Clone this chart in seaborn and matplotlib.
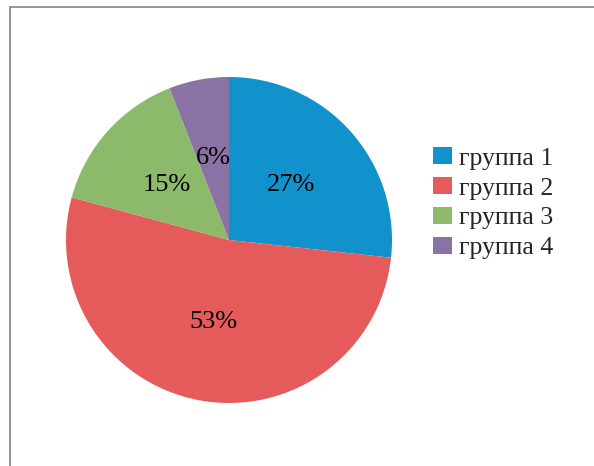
import matplotlib
matplotlib.use("Agg")
import matplotlib.pyplot as plt
import seaborn as sns
from matplotlib.lines import Line2D
from matplotlib.patches import Patch

groups = ["группа 1", "группа 2", "группа 3", "группа 4"]
shares = [27, 53, 15, 6]
colors = ["#1192CC", "#E55B5B", "#8CBA6A", "#8A72A5"]

sns.set_theme(style="white")
plt.rcParams["font.family"] = ["Liberation Serif", "DejaVu Serif"]

W, H = 594, 466
fig = plt.figure(figsize=(W / 100, H / 100), dpi=100)
fig.patch.set_facecolor("white")

# outer frame (top and left edges visible)
fig.add_artist(Line2D([9.5 / W, 9.5 / W], [0, 1 - 6.5 / H], transform=fig.transFigure,
                      color="#8C8C8C", lw=1.3))
fig.add_artist(Line2D([9.5 / W, 1], [1 - 6.5 / H, 1 - 6.5 / H], transform=fig.transFigure,
                      color="#8C8C8C", lw=1.3))

cx, cy, r = 229, 240, 163
ax = fig.add_axes([(cx - r) / W, (H - cy - r) / H, 2 * r / W, 2 * r / H])

label_iter = iter(f"{v}%" for v in shares)
wedges, texts, autotexts = ax.pie(
    shares,
    colors=colors,
    startangle=90,
    counterclock=False,
    autopct=lambda p: next(label_iter),
    pctdistance=0.51,
    wedgeprops=dict(linewidth=0),
    textprops=dict(fontsize=19, color="black"),
)
ax.set_xlim(-1, 1)
ax.set_ylim(-1, 1)
ax.set_aspect("equal")
ax.axis("off")

handles = [Patch(facecolor=c, edgecolor="none") for c in colors]
fig.legend(handles, groups, loc="upper left", bbox_to_anchor=(433 / W, 1 - 147 / H),
           frameon=False, fontsize=18.5, handlelength=0.74, handleheight=0.66,
           handletextpad=0.27, labelspacing=0.28, borderaxespad=0, borderpad=0)

fig.savefig("out.png", dpi=100, facecolor="white")
